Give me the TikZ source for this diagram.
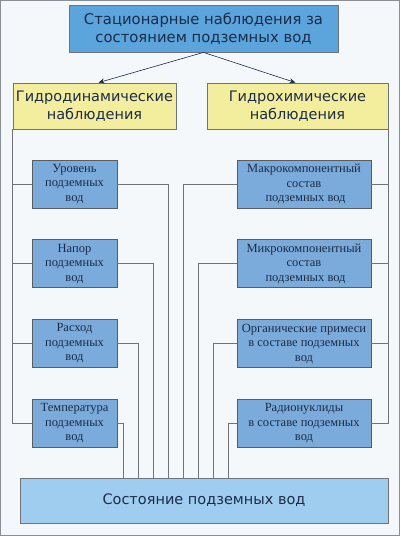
\documentclass[tikz,border=0pt]{standalone}
\usepackage{fontspec}
\setmainfont{Liberation Serif}
\setsansfont{DejaVu Sans}
\usetikzlibrary{arrows.meta,positioning}
\definecolor{pagebg}{HTML}{F5F8FB}
\definecolor{framegray}{HTML}{8A8F96}
\definecolor{linegray}{HTML}{707478}
\definecolor{topblue}{HTML}{5CA4DC}
\definecolor{softyellow}{HTML}{F3EE9E}
\definecolor{midblue}{HTML}{7AABDB}
\definecolor{paleblue}{HTML}{9FCDF0}
\definecolor{inknavy}{HTML}{1C2C48}
\tikzset{
  link/.style={linegray, line width=0.8pt},
  pointer/.style={inknavy, -{Stealth[length=6pt,width=5pt]}, line width=0.6pt},
  topnode/.style={draw=linegray, line width=0.8pt, fill=topblue, text=inknavy, align=center, inner sep=0pt,
    font=\sffamily\fontsize{14.8}{18}\selectfont, minimum width=269pt, minimum height=47pt},
  groupnode/.style={draw=linegray, line width=0.8pt, fill=softyellow, text=inknavy, align=center, inner sep=0pt,
    font=\sffamily\fontsize{14.5}{17.5}\selectfont, minimum height=46pt},
  itemnode/.style={draw=linegray!80!black, line width=0.8pt, fill=midblue, text=inknavy, align=center, inner sep=0pt,
    font=\fontsize{12.5}{14.5}\selectfont, minimum height=48pt},
  leftitem/.style={itemnode, minimum width=85pt},
  rightitem/.style={itemnode, minimum width=134pt},
  resultnode/.style={draw=linegray, line width=0.8pt, fill=paleblue, text=inknavy, align=center, inner sep=0pt,
    font=\sffamily\fontsize{14.5}{18}\selectfont, minimum width=368pt, minimum height=45pt}
}
\begin{document}
\begin{tikzpicture}[x=1pt, y=-1pt, node distance=31pt and 1cm]
  \useasboundingbox (0,0) rectangle (400,536);
  \draw[framegray, fill=pagebg, line width=0.8pt] (0.5,0.5) rectangle (399.5,535.5);
  % top level
  \node[topnode] (obs) at (203.5,28.5) {Стационарные наблюдения за\\состоянием подземных вод};
  \node[groupnode, minimum width=163pt] (dyn) at (94.5,106) {Гидродинамические\\наблюдения};
  \node[groupnode, minimum width=181pt] (chem) at (297.5,106) {Гидрохимические\\наблюдения};
  \draw[pointer] (obs.south) -- ([xshift=4pt]dyn.north);
  \draw[pointer] (obs.south) -- ([xshift=-2pt]chem.north);
  % left column
  \node[leftitem] (level) at (74.5,184) {Уровень\\подземных\\вод};
  \node[leftitem, below=of level] (head) {Напор\\подземных\\вод};
  \node[leftitem, below=of head] (flow) {Расход\\подземных\\вод};
  \node[leftitem, below=of flow] (temp) {Температура\\подземных\\вод};
  % right column
  \node[rightitem] (macro) at (304,184) {Макрокомпонентный\\состав\\\ подземных вод};
  \node[rightitem, below=of macro] (micro) {Микрокомпонентный\\состав\\\ подземных вод};
  \node[rightitem, below=of micro] (organic) {Органические примеси\\в составе подземных\\вод};
  \node[rightitem, below=of organic] (radio) {Радионуклиды\\в составе подземных\\вод};
  % result
  \node[resultnode] (state) at (204,500.5) {Состояние подземных вод};
  % trunks
  \foreach \n in {level,head,flow,temp}
    \draw[link] (dyn.south west) |- (\n.west);
  \foreach \n in {macro,micro,organic,radio}
    \draw[link] (chem.south east) |- (\n.east);
  % feeds into the result
  \foreach \n/\x in {temp/104,flow/119,head/134,level/149}
    \draw[link] (\n.east) -| ([xshift=\x pt]state.north west);
  \foreach \n/\x in {macro/164,micro/179,organic/194,radio/209}
    \draw[link] (\n.west) -| ([xshift=\x pt]state.north west);
\end{tikzpicture}
\end{document}
